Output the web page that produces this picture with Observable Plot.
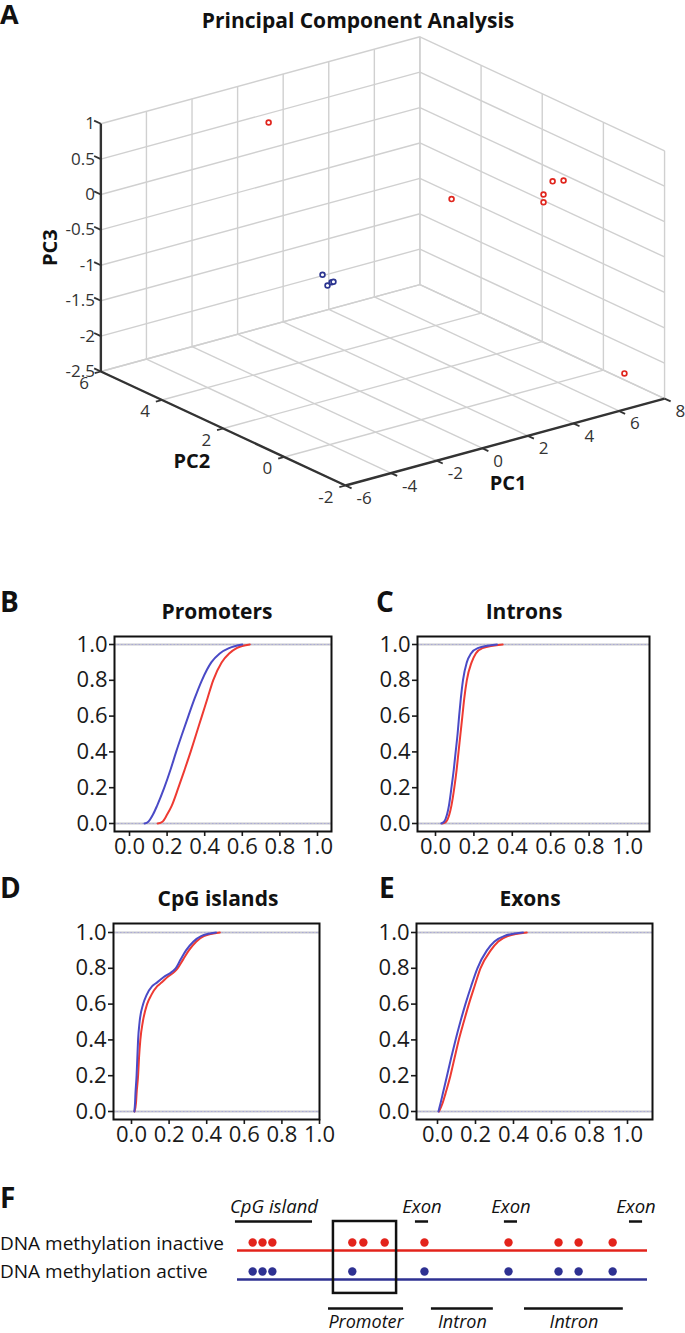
<!DOCTYPE html>
<html><head><meta charset="utf-8">
<script src="https://cdn.jsdelivr.net/npm/d3@7"></script>
<script src="https://cdn.jsdelivr.net/npm/@observablehq/plot@0.6"></script>
<style>
body{margin:0;background:#fff;}
#page{position:relative;width:685px;height:1333px;overflow:hidden;font-family:"Open Sans",sans-serif;background:#fff;}
#page > svg, #page > figure{position:absolute;margin:0;}
svg.cdf text{font-size:22px !important;}
svg.cdf [aria-label*="axis"] path, svg.cdf [aria-label*="axis"] line{stroke-width:1.6px;}
</style></head><body><div id="page"></div>
<script>
// ---------------- Panel A: PCA ----------------
const sampleGroup = ["inactive","inactive","inactive","inactive","inactive","inactive","inactive","active","active","active","active"];
const pc1 = [0.02, 2.68, 4.03, 4.03, 4.43, 4.91, 6.91, -0.30, -0.08, 0.10, 0.18];
const pc2 = [5, 1, -1, -1, -1, -1, -1.5, 3, 3, 3, 3];
const pc3 = [0.69, 0.18, 0.53, 0.42, 0.68, 0.65, -2.15, -1.03, -1.20, -1.17, -1.17];
const pc1Ticks = [-6, -4, -2, 0, 2, 4, 6, 8];
const pc2Ticks = [-2, 0, 2, 4, 6];
const pc3Ticks = [-2.5, -2, -1.5, -1, -0.5, 0, 0.5, 1];

// ---------------- Panels B–E: cumulative distributions ----------------
const cdfTicks = [0, 0.2, 0.4, 0.6, 0.8, 1.0];
const promoterLevels = [0, 0.01, 0.05, 0.1, 0.2, 0.3, 0.4, 0.5, 0.6, 0.7, 0.8, 0.9, 0.95, 0.98, 1];
const promoterActive = [0.08, 0.10, 0.125, 0.147, 0.185, 0.218, 0.248, 0.28, 0.313, 0.347, 0.385, 0.435, 0.48, 0.53, 0.60];
const promoterInactive = [0.15, 0.175, 0.20, 0.225, 0.26, 0.293, 0.325, 0.355, 0.385, 0.415, 0.445, 0.49, 0.53, 0.57, 0.64];
const intronLevels = [0, 0.01, 0.05, 0.1, 0.2, 0.3, 0.4, 0.5, 0.6, 0.7, 0.8, 0.9, 0.95, 0.98, 1];
const intronActive = [0.03, 0.045, 0.06, 0.07, 0.083, 0.095, 0.105, 0.115, 0.123, 0.132, 0.143, 0.163, 0.185, 0.22, 0.32];
const intronInactive = [0.035, 0.055, 0.072, 0.083, 0.098, 0.11, 0.12, 0.13, 0.14, 0.15, 0.163, 0.188, 0.21, 0.245, 0.35];
const cpgLevels = [0, 0.05, 0.1, 0.2, 0.3, 0.4, 0.5, 0.6, 0.65, 0.7, 0.72, 0.75, 0.78, 0.8, 0.85, 0.9, 0.95, 0.98, 1];
const cpgActive = [0.015, 0.019, 0.021, 0.027, 0.031, 0.035, 0.043, 0.062, 0.08, 0.11, 0.135, 0.17, 0.215, 0.235, 0.262, 0.29, 0.33, 0.37, 0.45];
const cpgInactive = [0.016, 0.024, 0.027, 0.035, 0.04, 0.047, 0.06, 0.083, 0.105, 0.137, 0.16, 0.19, 0.228, 0.245, 0.275, 0.305, 0.345, 0.385, 0.47];
const exonLevels = [0, 0.05, 0.1, 0.2, 0.3, 0.4, 0.5, 0.6, 0.7, 0.8, 0.9, 0.95, 0.98, 1];
const exonActive = [0.005, 0.017, 0.028, 0.05, 0.072, 0.095, 0.12, 0.147, 0.177, 0.21, 0.26, 0.30, 0.35, 0.45];
const exonInactive = [0.008, 0.028, 0.042, 0.068, 0.09, 0.112, 0.138, 0.165, 0.195, 0.226, 0.28, 0.32, 0.37, 0.47];

// ---------------- Panel F: schematic ----------------
const inactiveSites = [3.7, 6.1, 8.5, 28, 30.7, 35.9, 45.6, 66.1, 78.3, 83.2, 91.5];
const activeSites = [3.7, 6.1, 8.5, 28, 45.6, 66.1, 78.3, 83.2, 91.5];
const upperRegionNames = ["CpG island", "Exon", "Exon", "Exon"];
const upperRegionStart = [-0.5, 43.4, 65.1, 95.6];
const upperRegionEnd = [18.3, 46.6, 68.3, 98.8];
const lowerRegionNames = ["Promoter", "Intron", "Intron"];
const lowerRegionStart = [22.2, 47.3, 70.0];
const lowerRegionEnd = [40.5, 62.4, 94.1];
const focusRegion = [23.4, 38.8];
const trackNames = ["DNA methylation inactive", "DNA methylation active"];

// colours
const RED_A = "#e0261e", BLUE_A = "#2c3590";
const RED_C = "#ee3a32", BLUE_C = "#4a4ac6";
const RED_F = "#e3231b", BLUE_F = "#2e3192";
const FONT = "'Open Sans', sans-serif";
const CDF_TICK_FONT = 22;

const page = document.getElementById("page");
function place(el, left, top) { el.style.left = left + "px"; el.style.top = top + "px"; page.appendChild(el); }

// ---------- Panel A ----------
(function () {
  // oblique projection: px per unit along each PC direction
  const E1 = [22.79, 6.21], E2 = [-30.58, 14.25], E3 = 70.8;
  const proj = (a, b, c) => ({ u: a * E1[0] + b * E2[0], v: a * E1[1] + b * E2[1] + c * E3 });
  const [p1min, p1max] = d3.extent(pc1Ticks), [p2min, p2max] = d3.extent(pc2Ticks), [p3min, p3max] = d3.extent(pc3Ticks);
  const seg = (p, q) => { const A = proj(...p), B = proj(...q); return { x1: A.u, y1: A.v, x2: B.u, y2: B.v }; };
  const grid = [];
  for (const a of pc1Ticks) { grid.push(seg([a, p2max, p3min], [a, p2max, p3max])); grid.push(seg([a, p2min, p3min], [a, p2max, p3min])); }
  for (const b of pc2Ticks) { grid.push(seg([p1max, b, p3min], [p1max, b, p3max])); grid.push(seg([p1min, b, p3min], [p1max, b, p3min])); }
  for (const c of pc3Ticks) { grid.push(seg([p1min, p2max, c], [p1max, p2max, c])); grid.push(seg([p1max, p2min, c], [p1max, p2max, c])); }
  const axes = [seg([p1min, p2max, p3min], [p1min, p2max, p3max]), seg([p1min, p2min, p3min], [p1min, p2max, p3min]), seg([p1min, p2min, p3min], [p1max, p2min, p3min])];
  const ticks = [
    ...pc3Ticks.map(c => seg([p1min, p2max, c], [p1min, p2max + 0.22, c])),
    ...pc2Ticks.map(b => seg([p1min, b, p3min], [p1min - 0.27, b, p3min])),
    ...pc1Ticks.map(a => seg([a, p2min, p3min], [a, p2min - 0.2, p3min]))
  ];
  const pts = pc1.map((a, i) => ({ ...proj(a, pc2[i], pc3[i]), g: sampleGroup[i] }));
  const l3 = pc3Ticks.map(c => ({ ...proj(p1min, p2max, c), t: String(c) }));
  const l2 = pc2Ticks.map(b => ({ ...proj(p1min, b, p3min), t: String(b) }));
  const l1 = pc1Ticks.map(a => ({ ...proj(a, p2min, p3min), t: String(a) }));
  const o = proj(p1min, p2min, p3min);
  const t3 = [proj(p1min, p2max, -0.75)], t2 = [proj(p1min, 1, p3min)], t1 = [proj(1, p2min, p3min)];
  const titleStyle = { x: "u", y: "v", fontSize: 20, fontWeight: "bold", fill: "#111" };
  const W = 685, H = 520, ox = 345, oy = 485;
  const svg = Plot.plot({
    width: W, height: H, margin: 0,
    x: { domain: [o.u - ox, o.u + (W - ox)], axis: null },
    y: { domain: [o.v - (H - oy), o.v + oy], axis: null },
    style: { fontFamily: FONT, background: "transparent", overflow: "visible" },
    marks: [
      Plot.link(grid, { x1: "x1", y1: "y1", x2: "x2", y2: "y2", stroke: "#d0d0d0", strokeWidth: 1.4 }),
      Plot.link(axes, { x1: "x1", y1: "y1", x2: "x2", y2: "y2", stroke: "#333", strokeWidth: 2.4 }),
      Plot.link(ticks, { x1: "x1", y1: "y1", x2: "x2", y2: "y2", stroke: "#333", strokeWidth: 1.8 }),
      Plot.dot(pts, { x: "u", y: "v", r: 2.4, stroke: d => d.g === "inactive" ? RED_A : BLUE_A, strokeWidth: 1.7, fill: "white" }),
      Plot.text(l3, { x: "u", y: "v", text: "t", textAnchor: "end", dx: -6, dy: 0, fontSize: 17, fill: "#333" }),
      Plot.text(l2, { x: "u", y: "v", text: "t", textAnchor: "end", dx: -12, dy: 12, fontSize: 17, fill: "#333" }),
      Plot.text(l1, { x: "u", y: "v", text: "t", textAnchor: "start", dx: 11, dy: 13, fontSize: 17, fill: "#333" }),
      Plot.text(t3, { ...titleStyle, text: () => "PC3", rotate: -90, dx: -50, dy: 0 }),
      Plot.text(t2, { ...titleStyle, text: () => "PC2", dx: -62, dy: 19 }),
      Plot.text(t1, { ...titleStyle, text: () => "PC1", dx: 3, dy: 42 })
    ]
  });
  place(svg, 0, 0);
})();

// ---------- Panels B–E ----------
function cdfPanel({ left, top, w, h, frame, zeroPx, onePx, yOnePx, yZeroPx, levels, active, inactive }) {
  const ppu = onePx - zeroPx, yppu = yZeroPx - yOnePx;
  const xDomain = [(frame[0] - zeroPx) / ppu, (frame[1] - zeroPx) / ppu];
  const yDomain = [-(frame[3] - yZeroPx) / yppu, 1 + (yOnePx - frame[2]) / yppu];
  const act = levels.map((p, i) => ({ x: active[i], y: p }));
  const ina = levels.map((p, i) => ({ x: inactive[i], y: p }));
  const svg = Plot.plot({
    width: w, height: h,
    marginLeft: frame[0] - left, marginRight: left + w - frame[1],
    marginTop: frame[2] - top, marginBottom: top + h - frame[3],
    style: { fontFamily: FONT, fontSize: CDF_TICK_FONT + "px", color: "#1a1a1a", background: "transparent", overflow: "visible" },
    x: { domain: xDomain, ticks: cdfTicks, tickFormat: d3.format(".1f"), tickSize: 5, tickPadding: 2, label: null },
    y: { domain: yDomain, ticks: cdfTicks, tickFormat: d3.format(".1f"), tickSize: 5, tickPadding: 2, label: null },
    marks: [
      Plot.ruleY([0, 1], { stroke: "#c6c6cc", strokeWidth: 2 }),
      Plot.ruleY([0, 1], { stroke: "#a0a0dc", strokeWidth: 1, strokeDasharray: "1.5,2", strokeOpacity: 0.7 }),
      Plot.line(ina, { x: "x", y: "y", stroke: RED_C, strokeWidth: 2, curve: "monotone-x" }),
      Plot.line(act, { x: "x", y: "y", stroke: BLUE_C, strokeWidth: 2, curve: "monotone-x" }),
      Plot.frame({ stroke: "#111", strokeWidth: 2 })
    ]
  });
  svg.classList.add("cdf");
  svg.querySelectorAll("text").forEach(t => { t.setAttribute("font-size", CDF_TICK_FONT); t.style.fontSize = CDF_TICK_FONT + "px"; });
  place(svg, left, top);
}
cdfPanel({ left: 0, top: 600, w: 345, h: 270, frame: [114, 331, 636, 831], zeroPx: 129, onePx: 317, yOnePx: 644, yZeroPx: 823, levels: promoterLevels, active: promoterActive, inactive: promoterInactive });
cdfPanel({ left: 340, top: 600, w: 345, h: 270, frame: [417, 649, 636, 831], zeroPx: 435, onePx: 627, yOnePx: 644, yZeroPx: 823, levels: intronLevels, active: intronActive, inactive: intronInactive });
cdfPanel({ left: 0, top: 887, w: 345, h: 270, frame: [113, 319, 923, 1119], zeroPx: 131, onePx: 319, yOnePx: 932, yZeroPx: 1111, levels: cpgLevels, active: cpgActive, inactive: cpgInactive });
cdfPanel({ left: 340, top: 887, w: 345, h: 270, frame: [416, 652, 923, 1119], zeroPx: 437, onePx: 627, yOnePx: 932, yZeroPx: 1111, levels: exonLevels, active: exonActive, inactive: exonInactive });

// ---------- Panel F ----------
(function () {
  const top = 1180, H = 153, lineGap = 29, inactiveLinePx = 1250;
  const yTop = 1 + (inactiveLinePx - top) / lineGap;
  const yBot = 1 - (top + H - inactiveLinePx) / lineGap;
  const upper = upperRegionNames.map((n, i) => ({ n, s: upperRegionStart[i], e: upperRegionEnd[i] }));
  const lower = lowerRegionNames.map((n, i) => ({ n, s: lowerRegionStart[i], e: lowerRegionEnd[i] }));
  const svg = Plot.plot({
    width: 685, height: H, marginLeft: 237, marginRight: 38, marginTop: 0, marginBottom: 0,
    x: { domain: [0, 100], axis: null },
    y: { domain: [yBot, yTop], axis: null },
    style: { fontFamily: FONT, background: "transparent", overflow: "visible" },
    marks: [
      Plot.ruleY([1], { x1: 0, x2: 100, stroke: RED_F, strokeWidth: 2.5 }),
      Plot.ruleY([0], { x1: 0, x2: 100, stroke: BLUE_F, strokeWidth: 2.5 }),
      Plot.dot(inactiveSites, { x: d => d, y: () => 1, dy: -8, r: 4.2, fill: RED_F }),
      Plot.dot(activeSites, { x: d => d, y: () => 0, dy: -8, r: 4.2, fill: BLUE_F }),
      Plot.ruleY(upper, { x1: "s", x2: "e", y: () => 2, stroke: "#111", strokeWidth: 2.5 }),
      Plot.text(upper, { x: d => (d.s + d.e) / 2, y: () => 2, text: "n", dy: -9, lineAnchor: "bottom", fontSize: 18.5, fontStyle: "italic", fill: "#111" }),
      Plot.ruleY(lower, { x1: "s", x2: "e", y: () => -1, stroke: "#111", strokeWidth: 2.5 }),
      Plot.text(lower, { x: d => (d.s + d.e) / 2, y: () => -1, text: "n", dy: 7, lineAnchor: "top", fontSize: 18, fontStyle: "italic", fill: "#111" }),
      Plot.rect([focusRegion], { x1: d => d[0], x2: d => d[1], y1: () => -0.48, y2: () => 2, fill: "none", stroke: "#111", strokeWidth: 2.5 })
    ]
  });
  place(svg, 0, top);
})();

// ---------- text overlay ----------
(function () {
  const ov = d3.create("svg").attr("width", 685).attr("height", 1333).style("pointer-events", "none")
    .attr("font-family", FONT).attr("fill", "#111");
  const T = (x, y, t, size, weight, anchor) => ov.append("text").attr("x", x).attr("y", y).attr("font-size", size)
    .attr("font-weight", weight || "normal").attr("text-anchor", anchor || "start").text(t);
  T(0, 24, "A", 27, "bold");
  T(358, 28, "Principal Component Analysis", 21, "bold", "middle");
  T(0, 612, "B", 28, "bold"); T(217, 619, "Promoters", 21, "bold", "middle");
  T(376, 612, "C", 28, "bold"); T(524, 619, "Introns", 21, "bold", "middle");
  T(0, 898, "D", 28, "bold"); T(218, 906, "CpG islands", 21, "bold", "middle");
  T(379, 898, "E", 28, "bold"); T(530, 906, "Exons", 21, "bold", "middle");
  T(0, 1208, "F", 28, "bold");
  T(0, 1250, trackNames[0], 19); T(0, 1278, trackNames[1], 19);
  const n = ov.node(); place(n, 0, 0);
})();
</script></body></html>
